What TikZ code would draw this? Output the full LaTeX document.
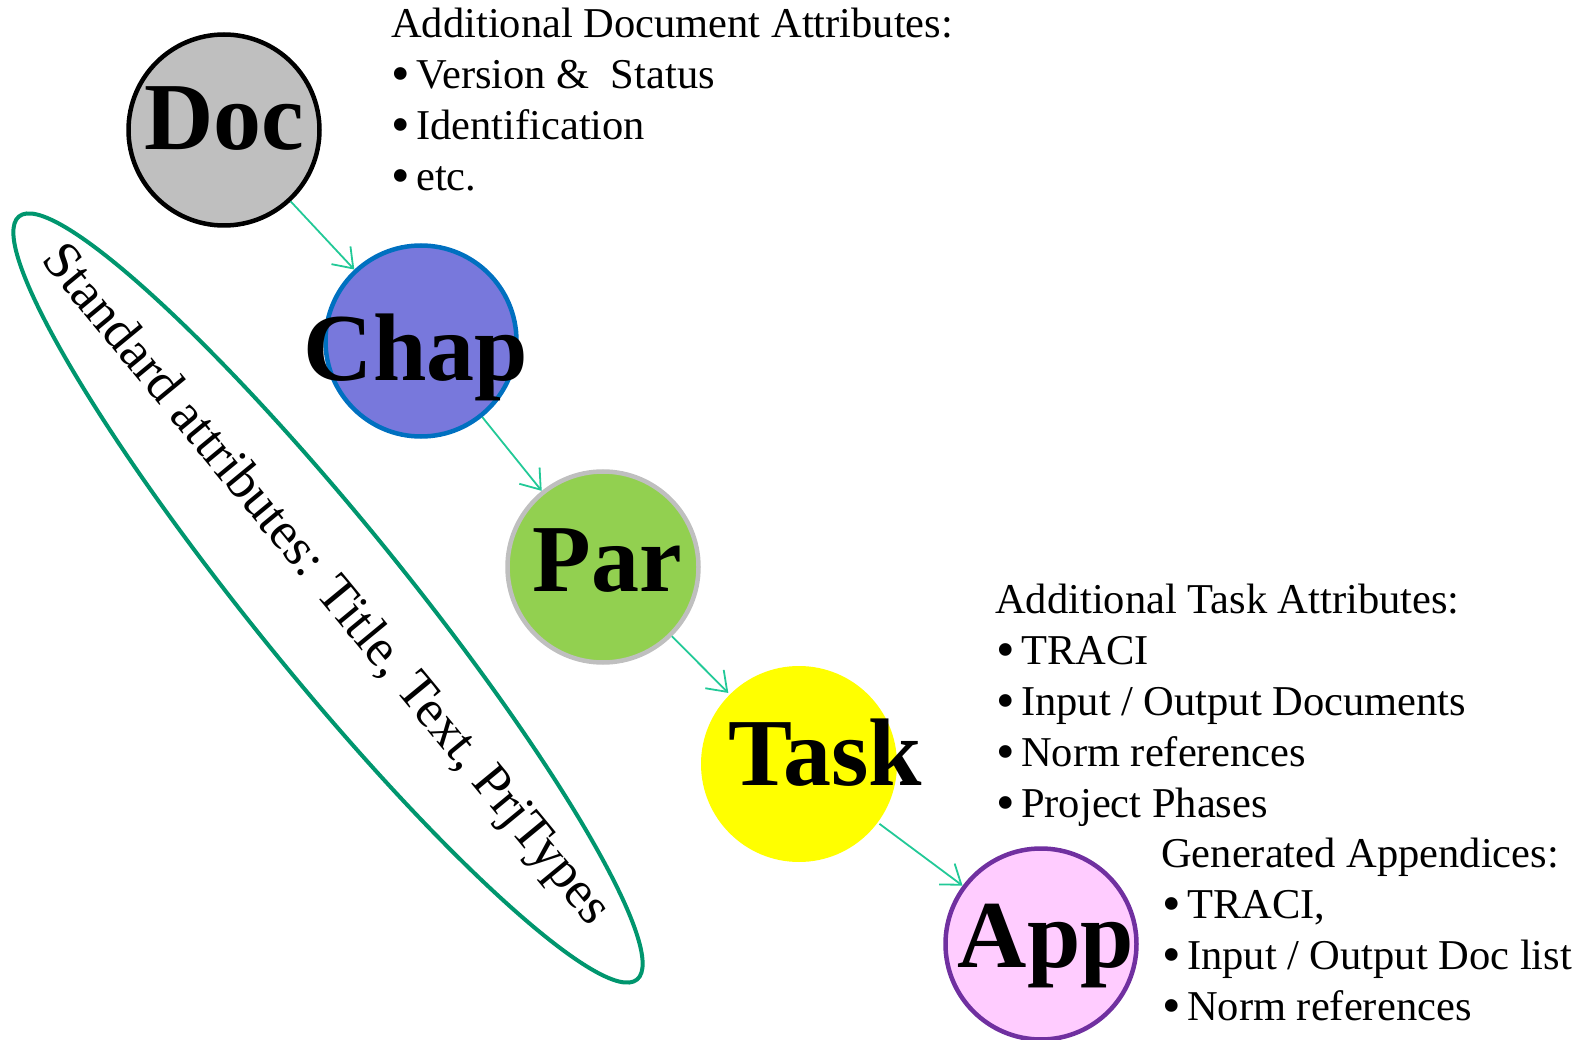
\documentclass[tikz,border=0pt]{standalone}
\usepackage{fontspec}
\setmainfont{Liberation Serif}
\usetikzlibrary{arrows.meta,calc}
\definecolor{docgray}{HTML}{BFBFBF}
\definecolor{chapfill}{HTML}{7878DC}
\definecolor{chapline}{HTML}{0070C0}
\definecolor{parfill}{HTML}{92D050}
\definecolor{parline}{HTML}{BFBFBF}
\definecolor{taskfill}{HTML}{FFFF00}
\definecolor{appfill}{HTML}{FFCCFF}
\definecolor{appline}{HTML}{7030A0}
\definecolor{ellgreen}{HTML}{00966E}
\definecolor{arrgreen}{HTML}{22C997}
\newcommand{\bul}{\makebox[25pt][l]{\raisebox{-3pt}{\fontsize{53}{53}\selectfont •}}}
\tikzset{
  circ/.style={circle, minimum size=191pt, inner sep=0pt, line width=4.5pt},
  bigtxt/.style={font=\fontsize{96}{96}\selectfont\bfseries, inner sep=0pt, anchor=base},
  line/.style={font=\fontsize{42.5}{50}\selectfont, inner sep=0pt, anchor=base west},
  flow/.style={draw=arrgreen, line width=1.8pt, -{Straight Barb[length=18pt,width=26pt,line width=1.8pt]}},
}
\begin{document}
\begin{tikzpicture}[x=1pt,y=1pt]
\useasboundingbox (0,0) rectangle (1583,-1040);
% ellipse with standard attributes
\draw[ellgreen, line width=4pt, rotate around={-51:(328,-598)}] (328,-598) ellipse [x radius=491, y radius=76];
\node[font=\fontsize{53}{53}\selectfont, rotate=-50.5, inner sep=0pt] (std) at (325,-586) {Standard attributes: Title, Text, PrjTypes};
% circles
\node[circ, fill=docgray, draw=black] (doc) at (224,-130) {};
\node[circ, fill=chapfill, draw=chapline] (chap) at (421,-341) {};
\node[circ, fill=parfill, draw=parline] (par) at (603,-567) {};
\node[circ, fill=taskfill, minimum size=196pt] (task) at (799,-764) {};
\node[circ, fill=appfill, draw=appline] (app) at (1041,-944) {};
% labels
\node[bigtxt] (doct) at (224,-150) {Doc};
\node[bigtxt] (chapt) at (416,-381) {Chap};
\node[bigtxt] (part) at (607,-591) {Par};
\node[bigtxt] (taskt) at (825,-785) {Task};
\node[bigtxt] (appt) at (1046,-967) {App};
% connectors
\draw[flow] (doc) -- (chap);
\draw[flow] (chap) -- (par);
\draw[flow] (par) -- (task);
\draw[flow] (task) -- (app);
% document attributes
\node[line] (d0) at (391,-38) {Additional Document Attributes:};
\node[line] (d1) at (391,-89) {\bul Version \&\ \ Status};
\node[line] (d2) at (391,-140) {\bul Identification};
\node[line] (d3) at (391,-191) {\bul etc.};
% task attributes
\node[line] (t0) at (995,-613) {Additional Task Attributes:};
\node[line] (t1) at (996,-664) {\bul TRACI};
\node[line] (t2) at (996,-715) {\bul Input / Output Documents};
\node[line] (t3) at (996,-766) {\bul Norm references};
\node[line] (t4) at (996,-817) {\bul Project Phases};
% generated appendices
\node[line] (a0) at (1161,-867) {Generated Appendices:};
\node[line] (a1) at (1162,-918) {\bul TRACI,};
\node[line] (a2) at (1162,-969) {\bul Input / Output Doc list};
\node[line] (a3) at (1162,-1020) {\bul Norm references};
\end{tikzpicture}
\end{document}
